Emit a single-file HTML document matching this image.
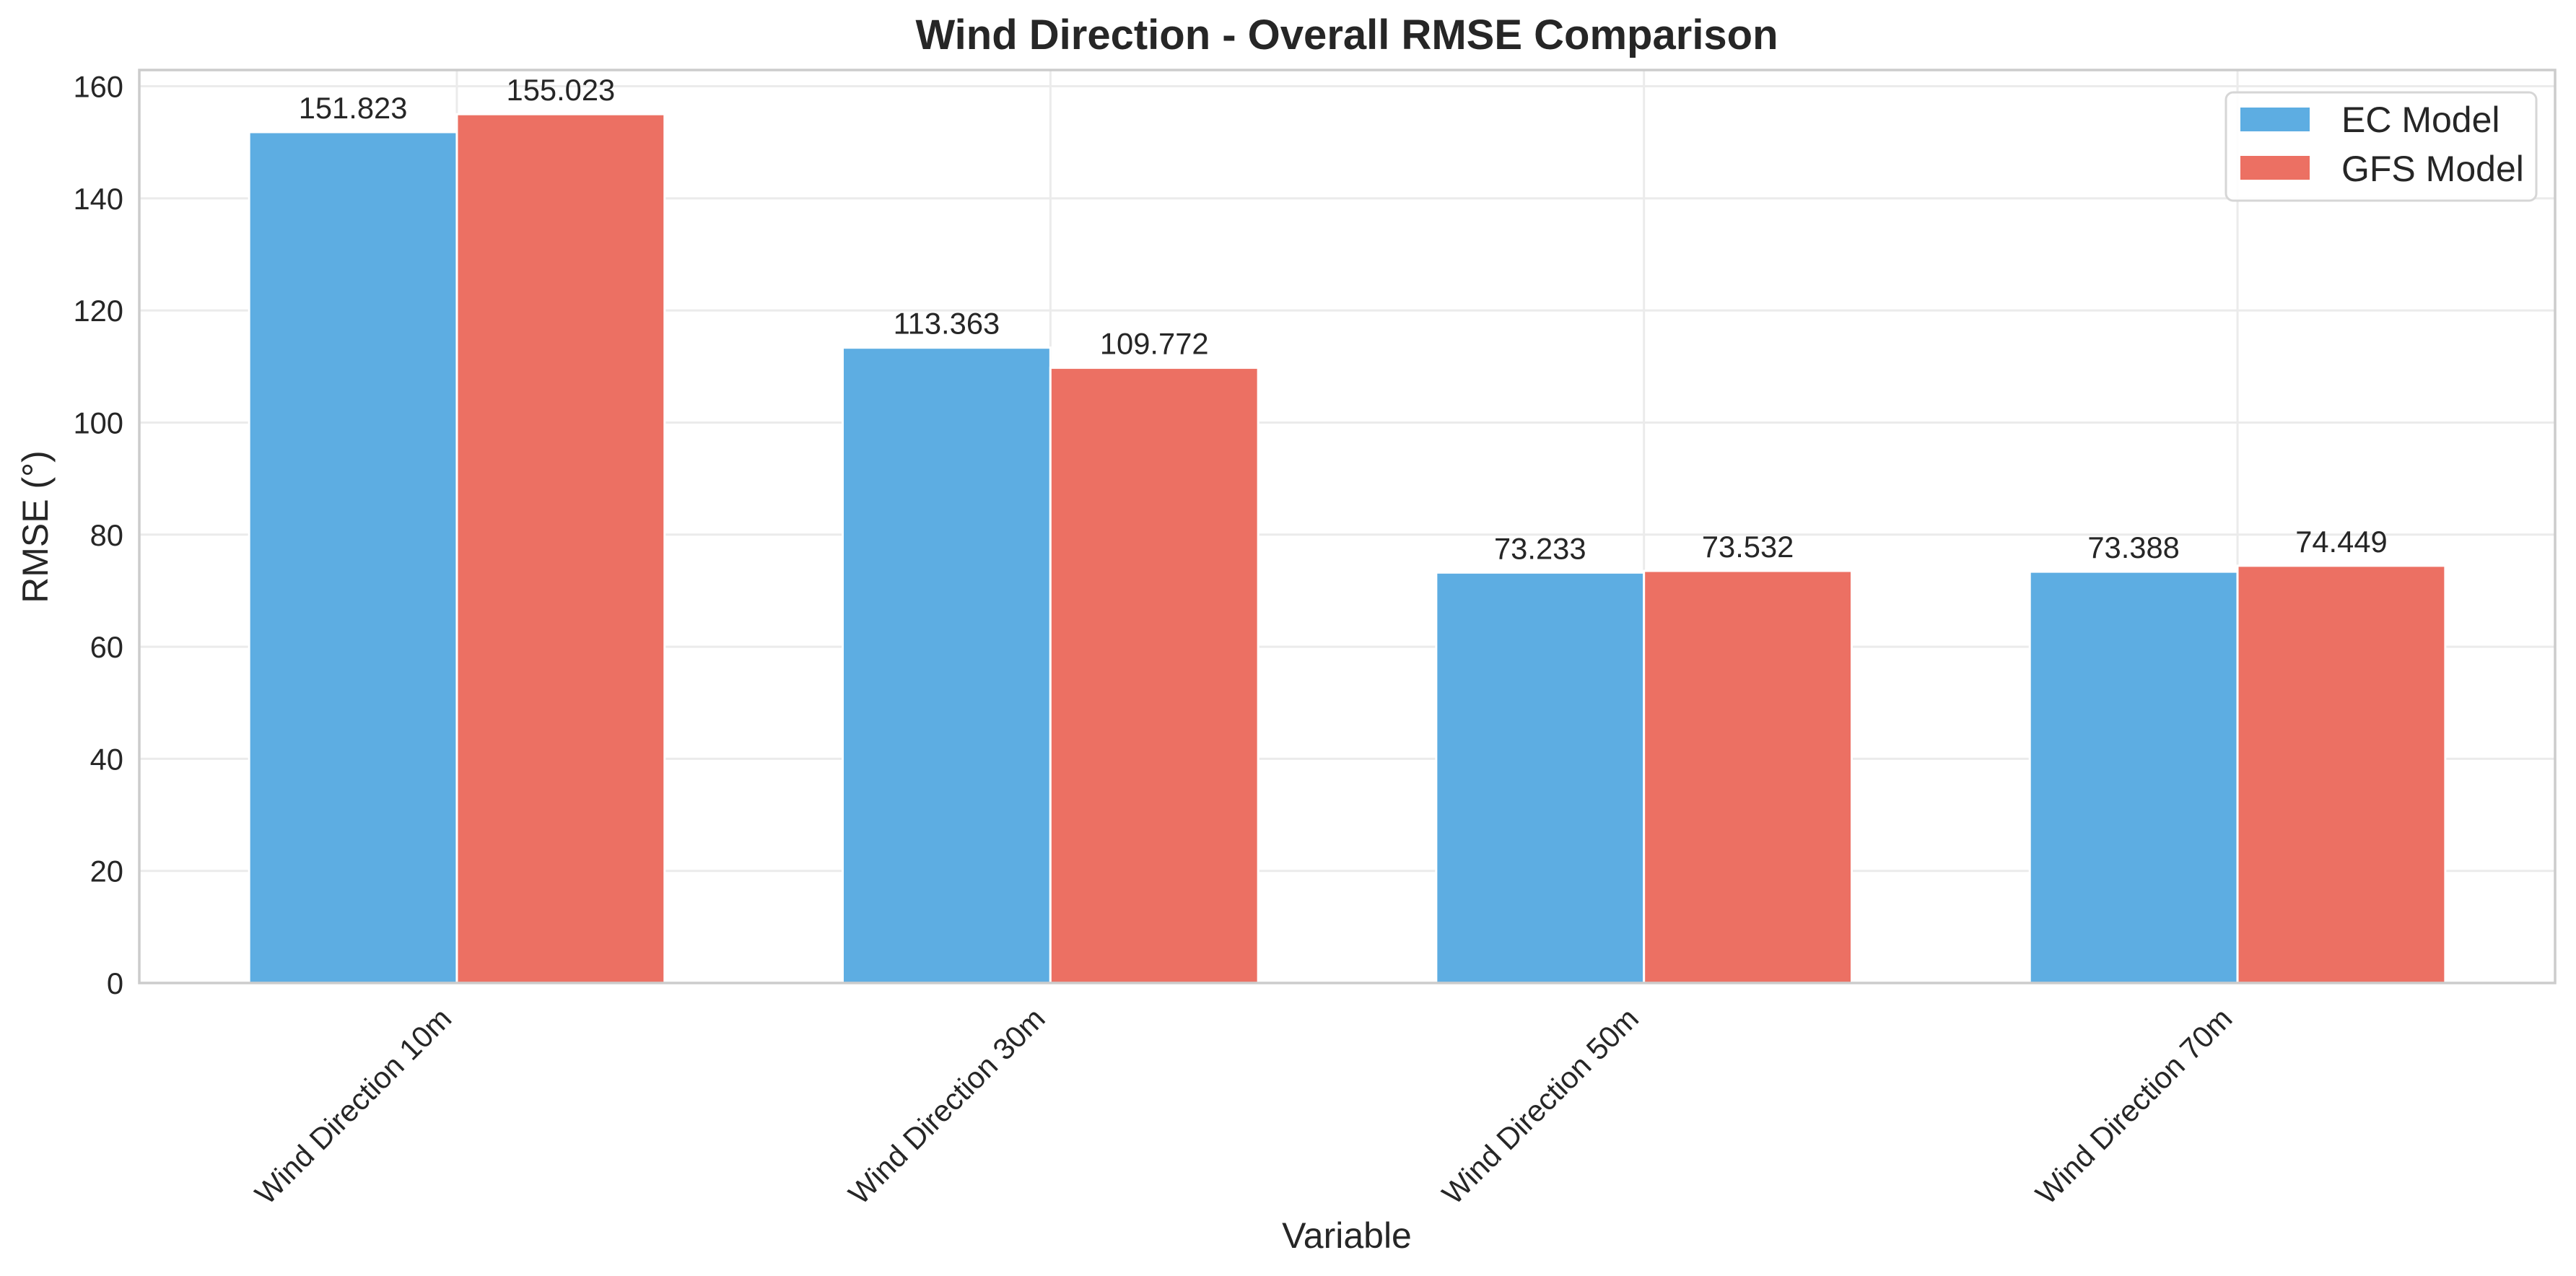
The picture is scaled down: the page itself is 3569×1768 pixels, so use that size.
<!DOCTYPE html>
<html><head><meta charset="utf-8"><style>
html,body{margin:0;padding:0;background:#fff;}
svg{display:block;font-family:"Liberation Sans",Arial,sans-serif;}
</style></head><body>
<svg id="chart" width="3569" height="1768" viewBox="0 0 3569 1768" xmlns="http://www.w3.org/2000/svg">
<rect x="0" y="0" width="3569" height="1768" fill="#fff"/>
<g id="grid"></g>
<g id="bars"></g>
<g id="labels"></g>
<g id="axes"></g>
<text x="1866" y="68" text-anchor="middle" font-size="58" font-weight="bold" fill="#262626">Wind Direction - Overall RMSE Comparison</text>
<text x="1866" y="1729" text-anchor="middle" font-size="50" fill="#262626">Variable</text>
<text transform="translate(66,730) rotate(-90)" text-anchor="middle" font-size="50" fill="#262626">RMSE (°)</text>
<g>
<rect x="3084" y="128" width="430" height="150" rx="10" fill="#fff" fill-opacity="0.9" stroke="#d6d6d6" stroke-width="3"/>
<rect x="3103" y="148" width="98" height="35" fill="#5DADE2" stroke="#fff" stroke-width="2"/>
<text x="3244" y="183" font-size="50" fill="#262626">EC Model</text>
<rect x="3103" y="215" width="98" height="35" fill="#EC7063" stroke="#fff" stroke-width="2"/>
<text x="3244" y="251" font-size="50" fill="#262626">GFS Model</text>
</g>
</svg>
<script>
const categories = ["Wind Direction 10m","Wind Direction 30m","Wind Direction 50m","Wind Direction 70m"];
const ecValues = [151.823, 113.363, 73.233, 73.388];
const gfsValues = [155.023, 109.772, 73.532, 74.449];
const yTicks = [0,20,40,60,80,100,120,140,160];

const NS = "http://www.w3.org/2000/svg";
const L = 193, R = 3540, T = 97, B = 1362;
const xMin = -0.535, xMax = 3.535, yMin = 0, yMax = 162.9;
const barW = 0.35;
function xs(v){ return L + (v - xMin) / (xMax - xMin) * (R - L); }
function ys(v){ return B - (v - yMin) / (yMax - yMin) * (B - T); }
function mk(tag, attrs, parent){ const e = document.createElementNS(NS, tag); for (const k in attrs) e.setAttribute(k, attrs[k]); parent.appendChild(e); return e; }

const grid = document.getElementById('grid');
const bars = document.getElementById('bars');
const labels = document.getElementById('labels');
const axes = document.getElementById('axes');

yTicks.forEach(t => {
  const y = ys(t);
  const g = mk('line', {x1:L, x2:R, y1:y, y2:y, stroke:'#ebebeb', 'stroke-width':3}, grid);
  
  
  const tl = mk('text', {x:L-22, y:y+15, 'text-anchor':'end', 'font-size':41.7, fill:'#262626'}, axes);
  
  
  tl.textContent = t;
});
categories.forEach((c, i) => {
  const x = xs(i);
  const g = mk('line', {x1:x, x2:x, y1:T, y2:B, stroke:'#ebebeb', 'stroke-width':3}, grid);
  
  
  const ex = x - 5, ey = B + 52;
  const tl = mk('text', {x:ex, y:ey, 'text-anchor':'end', 'font-size':41.7, fill:'#262626', transform:`rotate(-45 ${ex} ${ey})`}, axes);
  
  
  tl.textContent = c;
});

function drawSeries(vals, offset, color, name){
  vals.forEach((v, i) => {
    const x0 = xs(i + offset - barW/2), x1 = xs(i + offset + barW/2);
    const y = ys(v);
    const r = mk('rect', {x:x0, y:y, width:x1-x0, height:B-y, fill:color, stroke:'#fff', 'stroke-width':3}, bars);
    
    
    const t = mk('text', {x:(x0+x1)/2, y:y-19, 'text-anchor':'middle', 'font-size':41.7, fill:'#262626'}, labels);
    
    
    t.textContent = v.toFixed(3);
  });
}
drawSeries(ecValues, -barW/2, '#5DADE2', 'ec');
drawSeries(gfsValues, barW/2, '#EC7063', 'gfs');

const frame = mk('rect', {x:L, y:T, width:R-L, height:B-T, fill:'none', stroke:'#cccccc', 'stroke-width':3.5}, axes);


</script>
</body></html>
